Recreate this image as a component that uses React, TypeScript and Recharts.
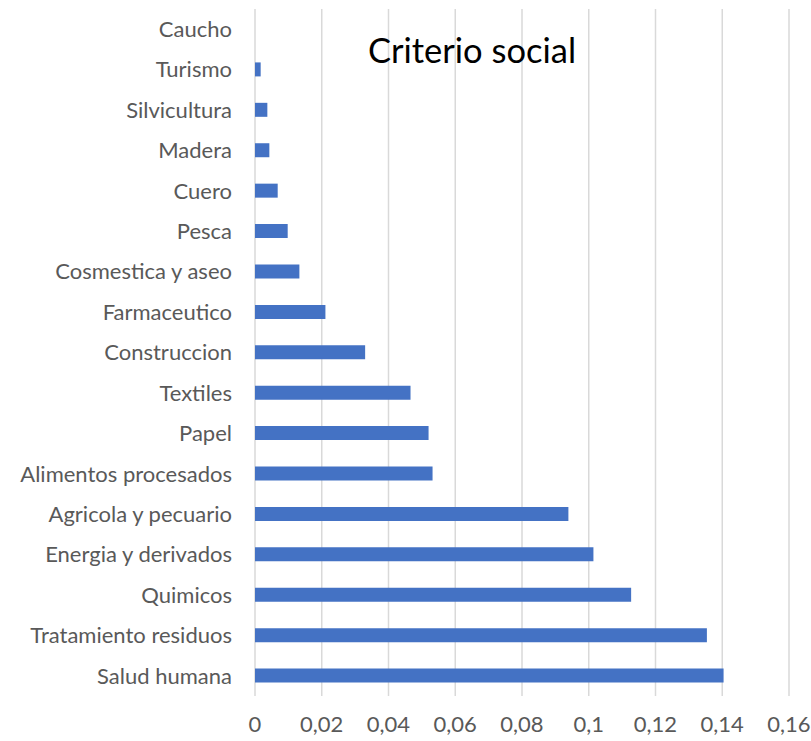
import { BarChart, Bar, XAxis, YAxis, CartesianGrid } from "recharts";

// sectors top to bottom, as drawn
const sectors = [
  "Caucho",
  "Turismo",
  "Silvicultura",
  "Madera",
  "Cuero",
  "Pesca",
  "Cosmestica y aseo",
  "Farmaceutico",
  "Construccion",
  "Textiles",
  "Papel",
  "Alimentos procesados",
  "Agricola y pecuario",
  "Energia y derivados",
  "Quimicos",
  "Tratamiento residuos",
  "Salud humana",
];

const socialScores = [
  0, 0.0017, 0.0037, 0.0043, 0.0068, 0.0098, 0.0133, 0.0211, 0.033, 0.0466,
  0.052, 0.0532, 0.0939, 0.1014, 0.1127, 0.1354, 0.1404,
];

const xTicks = [0, 0.02, 0.04, 0.06, 0.08, 0.1, 0.12, 0.14, 0.16];

const data = sectors.map((name, i) => ({ name, value: socialScores[i] }));

const FONT = "Lato, 'Noto Sans', sans-serif";
const fmt = (v: number) => String(Number(v.toFixed(2))).replace(".", ",");

export default function App() {
  return (
    <div style={{ position: "absolute", left: 0, top: 0, width: 811, height: 741, background: "#fff", fontFamily: FONT }}>
      <BarChart
        width={811}
        height={741}
        data={data}
        layout="vertical"
        margin={{ top: 9, right: 22, bottom: 0, left: 0 }}
        barSize={14}
      >
        <CartesianGrid vertical horizontal={false} stroke="#d9d9d9" strokeWidth={1.5} />
        <XAxis
          type="number"
          domain={[0, 0.16]}
          ticks={xTicks}
          tickFormatter={fmt}
          axisLine={false}
          tickLine={false}
          tickSize={0}
          tickMargin={20}
          height={45}
          tick={{ fill: "#595959", fontSize: 22, fontFamily: FONT }}
        />
        <YAxis
          type="category"
          dataKey="name"
          width={255}
          axisLine={false}
          tickLine={false}
          tickSize={0}
          tickMargin={23}
          interval={0}
          tick={{ fill: "#595959", fontSize: 22, fontFamily: FONT }}
        />
        <Bar dataKey="value" fill="#4472C4" isAnimationActive={false} />
      </BarChart>
      <div
        style={{
          position: "absolute",
          left: 368,
          top: 30,
          fontSize: 34.5,
          lineHeight: "40px",
          color: "#000",
          fontFamily: FONT,
          whiteSpace: "nowrap",
        }}
      >
        Criterio social
      </div>
    </div>
  );
}
